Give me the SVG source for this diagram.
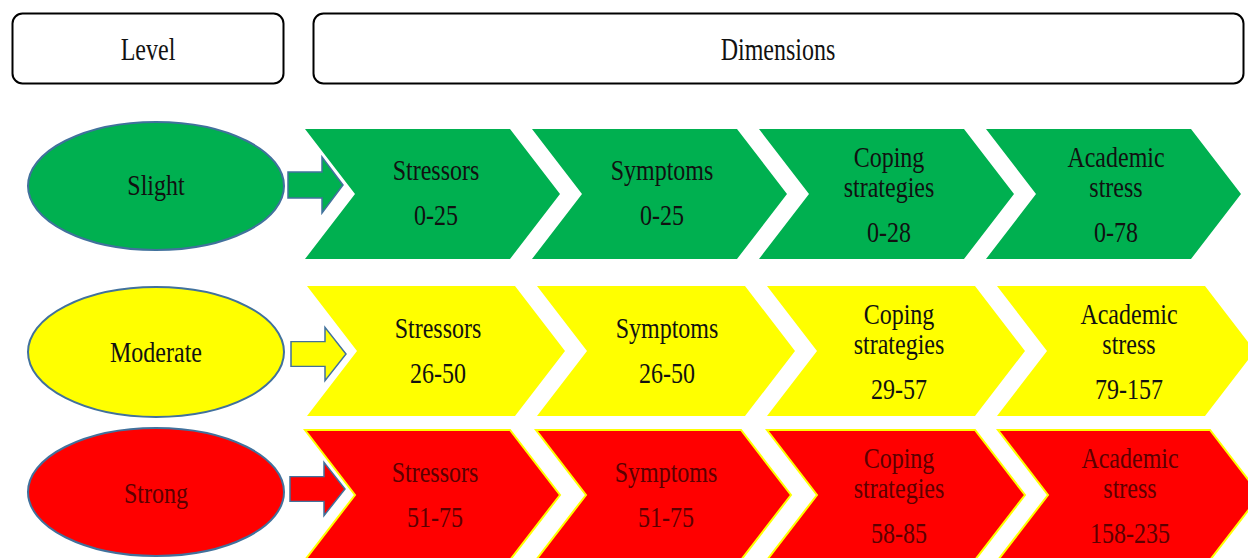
<svg xmlns="http://www.w3.org/2000/svg" width="1248" height="558" viewBox="0 0 1248 558">
<style>
  text { font-family: "Liberation Serif", "Times New Roman", serif; font-size: 24px; text-anchor: middle; }
  .hdr { fill: #ffffff; stroke: #000000; stroke-width: 2; }
  .ell { stroke: #41719c; stroke-width: 2; }
  .arr { stroke: #41719c; stroke-width: 1.5; }
  .g { fill: #00b050; }
  .y { fill: #ffff00; }
  .r { fill: #ff0000; }
  .rs { stroke: #ffff00; stroke-width: 2; }
  .tk { fill: #111111; }
  .tr { fill: #5c0000; }
</style>
<defs>
  <path id="arrow" d="M0,-13 H34 V-28 L55,0 L34,28 V13 H0 Z"/>
</defs>
<rect width="1248" height="558" fill="#ffffff"/>

<g id="header-level">
  <rect class="hdr" x="12.5" y="13.5" width="271" height="70" rx="10"/>
  <text class="tk" transform="translate(148,60) scale(1,1.3)">Level</text>
</g>
<g id="header-dimensions">
  <rect class="hdr" x="313.5" y="13.5" width="930" height="70" rx="10"/>
  <text class="tk" transform="translate(778,60) scale(1,1.3)">Dimensions</text>
</g>

<!-- Level nodes -->
<g id="level-slight">
  <ellipse class="ell g" cx="156" cy="186" rx="128" ry="64"/>
  <text class="tk" transform="translate(156,195) scale(1,1.25)">Slight</text>
</g>
<g id="level-moderate">
  <ellipse class="ell y" cx="156" cy="352" rx="128" ry="65"/>
  <text class="tk" transform="translate(156,362) scale(1,1.25)">Moderate</text>
</g>
<g id="level-strong">
  <ellipse class="ell r" cx="156" cy="492" rx="128" ry="64"/>
  <text class="tr" transform="translate(156,503) scale(1,1.25)">Strong</text>
</g>

<!-- Connectors -->
<g id="connectors">
  <use href="#arrow" class="arr g" transform="translate(288,185)"/>
  <use href="#arrow" class="arr y" transform="translate(291,354) scale(1,0.95)"/>
  <use href="#arrow" class="arr r" transform="translate(290,489) scale(1,0.95)"/>
</g>

<!-- Green row -->
<g id="slight-stressors">
  <path class="g" d="M305,129 H510 L560,194 L510,259 H305 L355,194 Z"/>
  <text class="tk" transform="translate(436,180) scale(1,1.25)">Stressors</text>
  <text class="tk" transform="translate(436,225) scale(1,1.25)">0-25</text>
</g>
<g id="slight-symptoms">
  <path class="g" d="M532,129 H737 L787,194 L737,259 H532 L582,194 Z"/>
  <text class="tk" transform="translate(662,180) scale(1,1.25)">Symptoms</text>
  <text class="tk" transform="translate(662,225) scale(1,1.25)">0-25</text>
</g>
<g id="slight-coping">
  <path class="g" d="M759,129 H964 L1014,194 L964,259 H759 L809,194 Z"/>
  <text class="tk" transform="translate(889,167) scale(1,1.25)">Coping</text>
  <text class="tk" transform="translate(889,197) scale(1,1.25)">strategies</text>
  <text class="tk" transform="translate(889,242) scale(1,1.25)">0-28</text>
</g>
<g id="slight-academic">
  <path class="g" d="M986,129 H1191 L1241,194 L1191,259 H986 L1036,194 Z"/>
  <text class="tk" transform="translate(1116,167) scale(1,1.25)">Academic</text>
  <text class="tk" transform="translate(1116,197) scale(1,1.25)">stress</text>
  <text class="tk" transform="translate(1116,242) scale(1,1.25)">0-78</text>
</g>

<!-- Yellow row -->
<g id="moderate-stressors">
  <path class="y" d="M307,286 H515 L565,351 L515,416 H307 L357,351 Z"/>
  <text class="tk" transform="translate(438,338) scale(1,1.25)">Stressors</text>
  <text class="tk" transform="translate(438,383) scale(1,1.25)">26-50</text>
</g>
<g id="moderate-symptoms">
  <path class="y" d="M537,286 H745 L795,351 L745,416 H537 L587,351 Z"/>
  <text class="tk" transform="translate(667,338) scale(1,1.25)">Symptoms</text>
  <text class="tk" transform="translate(667,383) scale(1,1.25)">26-50</text>
</g>
<g id="moderate-coping">
  <path class="y" d="M767,286 H975 L1025,351 L975,416 H767 L817,351 Z"/>
  <text class="tk" transform="translate(899,324) scale(1,1.25)">Coping</text>
  <text class="tk" transform="translate(899,354) scale(1,1.25)">strategies</text>
  <text class="tk" transform="translate(899,399) scale(1,1.25)">29-57</text>
</g>
<g id="moderate-academic">
  <path class="y" d="M997,286 H1205 L1255,351 L1205,416 H997 L1047,351 Z"/>
  <text class="tk" transform="translate(1129,324) scale(1,1.25)">Academic</text>
  <text class="tk" transform="translate(1129,354) scale(1,1.25)">stress</text>
  <text class="tk" transform="translate(1129,399) scale(1,1.25)">79-157</text>
</g>

<!-- Red row -->
<g id="strong-stressors">
  <path class="r rs" d="M305,430 H510 L560,495 L510,560 H305 L355,495 Z"/>
  <text class="tr" transform="translate(435,482) scale(1,1.25)">Stressors</text>
  <text class="tr" transform="translate(435,527) scale(1,1.25)">51-75</text>
</g>
<g id="strong-symptoms">
  <path class="r rs" d="M536,430 H741 L791,495 L741,560 H536 L586,495 Z"/>
  <text class="tr" transform="translate(666,482) scale(1,1.25)">Symptoms</text>
  <text class="tr" transform="translate(666,527) scale(1,1.25)">51-75</text>
</g>
<g id="strong-coping">
  <path class="r rs" d="M767,430 H975 L1025,495 L975,560 H767 L817,495 Z"/>
  <text class="tr" transform="translate(899,468) scale(1,1.25)">Coping</text>
  <text class="tr" transform="translate(899,498) scale(1,1.25)">strategies</text>
  <text class="tr" transform="translate(899,543) scale(1,1.25)">58-85</text>
</g>
<g id="strong-academic">
  <path class="r rs" d="M998,430 H1210 L1260,495 L1210,560 H998 L1048,495 Z"/>
  <text class="tr" transform="translate(1130,468) scale(1,1.25)">Academic</text>
  <text class="tr" transform="translate(1130,498) scale(1,1.25)">stress</text>
  <text class="tr" transform="translate(1130,543) scale(1,1.25)">158-235</text>
</g>
</svg>
